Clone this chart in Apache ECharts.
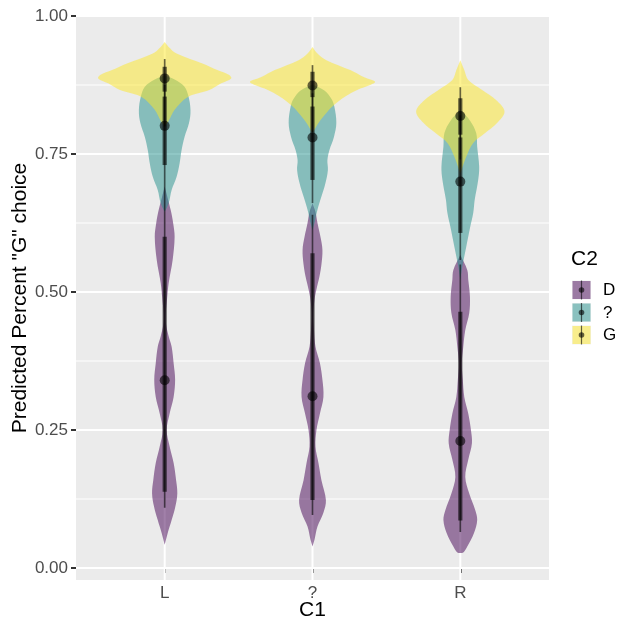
<!DOCTYPE html>
<html><head><meta charset="utf-8">
<script src="https://cdn.jsdelivr.net/npm/echarts@6/dist/echarts.min.js"></script>
<style>html,body{margin:0;padding:0;background:#fff}#c{width:618px;height:625px}</style>
</head><body><div id="c"></div>
<script>
// ---------- data ----------
const categories = ['L', '?', 'R'];
const groupNames = ['D', '?', 'G'];
const groupColors = ['#440154', '#21908C', '#FDE725'];
const yTickValues = [0, 0.25, 0.5, 0.75, 1];
const yMinorValues = [0.125, 0.375, 0.625, 0.875];

// violin profiles: [predicted value, relative density (half width)]
const violinL_D = [[0.691,0],[0.67,3],[0.649,6],[0.625,8.5],[0.60,10],[0.558,8],[0.516,4],[0.49,2.5],[0.462,1.2],[0.44,1.5],[0.42,4],[0.401,7],[0.371,9],[0.341,10.5],[0.31,9],[0.28,5],[0.25,2],[0.22,5],[0.19,9],[0.159,11.5],[0.135,12.7],[0.111,10.7],[0.087,7],[0.063,3],[0.042,0]];
const violinL_Q = [[0.892,0],[0.885,10],[0.872,20],[0.854,24],[0.829,26],[0.806,24.5],[0.781,20],[0.757,17],[0.733,15],[0.709,12],[0.685,7],[0.661,4],[0.645,0]];
const violinL_G = [[0.953,0],[0.944,4],[0.932,12],[0.914,38],[0.902,53],[0.893,65],[0.887,67],[0.878,57],[0.866,45],[0.853,23],[0.83,10],[0.81,4],[0.80,0]];
const violinQ_D = [[0.661,0],[0.645,3],[0.625,5],[0.60,8],[0.576,10],[0.55,9],[0.528,7],[0.505,4],[0.486,2],[0.462,1],[0.431,1.5],[0.401,3],[0.371,7.5],[0.341,10],[0.31,11],[0.28,7.5],[0.25,4],[0.22,3],[0.19,6],[0.159,9],[0.123,13.5],[0.10,11],[0.075,5],[0.051,2],[0.039,0]];
const violinQ_Q = [[0.876,0],[0.865,12],[0.85,19],[0.836,22],[0.806,24],[0.781,21.6],[0.757,17],[0.739,15],[0.721,15.5],[0.697,13],[0.673,9],[0.649,5],[0.625,2],[0.612,0]];
const violinQ_G = [[0.944,0],[0.932,5],[0.92,14],[0.902,38],[0.889,52],[0.881,63],[0.875,58],[0.866,45],[0.854,33],[0.836,20],[0.82,12],[0.806,6],[0.788,0]];
const violinR_D = [[0.567,0],[0.54,7],[0.522,8],[0.491,9.7],[0.462,9],[0.431,5],[0.401,3],[0.371,1.5],[0.341,2.5],[0.31,4],[0.28,8],[0.25,10.7],[0.226,11.7],[0.196,8],[0.165,5],[0.135,9],[0.105,15],[0.087,17],[0.063,13.7],[0.039,7],[0.028,3],[0.027,0]];
const violinR_Q = [[0.83,0],[0.81,10],[0.788,16],[0.763,17],[0.727,19],[0.703,18],[0.667,14.5],[0.643,13],[0.618,10],[0.582,6],[0.546,2],[0.522,0]];
const violinR_G = [[0.92,0],[0.902,4],[0.884,8],[0.866,22],[0.848,36],[0.827,44.5],[0.806,37],[0.788,25],[0.77,13],[0.745,6],[0.715,0]];

// point intervals per category (L, ?, R)
const medianD = [0.34, 0.311, 0.23];
const medianQ = [0.801, 0.78, 0.70];
const medianG = [0.887, 0.874, 0.819];
const inner66D = [[0.138,0.60],[0.123,0.57],[0.086,0.464]];
const inner66Q = [[0.73,0.854],[0.703,0.836],[0.607,0.78]];
const inner66G = [[0.863,0.908],[0.853,0.899],[0.785,0.851]];
const outer95D = [[0.109,0.645],[0.096,0.64],[0.065,0.55]];
const outer95Q = [[0.645,0.875],[0.661,0.86],[0.558,0.82]];
const outer95G = [[0.80,0.922],[0.79,0.911],[0.74,0.871]];

// ---------- build ----------
const violins = [
  [violinL_D, violinQ_D, violinR_D],
  [violinL_Q, violinQ_Q, violinR_Q],
  [violinL_G, violinQ_G, violinR_G]
];
const medians = [medianD, medianQ, medianG];
const inner66 = [inner66D, inner66Q, inner66G];
const outer95 = [outer95D, outer95Q, outer95G];

let maxDens = 0;
violins.forEach(g => g.forEach(v => v.forEach(p => { if (p[1] > maxDens) maxDens = p[1]; })));
const halfMax = 0.45; // widest violin spans 0.9 category units

function hexRgba(hex, a) {
  const n = parseInt(hex.slice(1), 16);
  return 'rgba(' + (n >> 16) + ',' + ((n >> 8) & 255) + ',' + (n & 255) + ',' + a + ')';
}

const FONT = '"Liberation Sans", Arial, sans-serif';

const violinSeries = groupNames.map((name, g) => ({
  type: 'custom',
  name: name,
  z: 3 + g,
  silent: true,
  data: categories.map((c, i) => [i + 1, medians[g][i]]),
  encode: { x: 0, y: 1 },
  renderItem: function (params, api) {
    const cx = api.value(0);
    const prof = violins[g][cx - 1];
    const right = prof.map(p => api.coord([cx + p[1] / maxDens * halfMax, p[0]]));
    const left = prof.slice().reverse().map(p => api.coord([cx - p[1] / maxDens * halfMax, p[0]]));
    return {
      type: 'polygon',
      shape: { points: right.concat(left), smooth: 0.35 },
      style: { fill: hexRgba(groupColors[g], 0.5), stroke: null }
    };
  }
}));

const intervalData = [];
groupNames.forEach((name, g) => categories.forEach((c, i) => {
  intervalData.push([i + 1, medians[g][i], inner66[g][i][0], inner66[g][i][1], outer95[g][i][0], outer95[g][i][1]]);
}));

const intervalSeries = {
  type: 'custom',
  z: 10,
  silent: true,
  data: intervalData,
  encode: { x: 0, y: 1 },
  renderItem: function (params, api) {
    const cx = api.value(0);
    const pMed = api.coord([cx, api.value(1)]);
    const a66 = api.coord([cx, api.value(2)]), b66 = api.coord([cx, api.value(3)]);
    const a95 = api.coord([cx, api.value(4)]), b95 = api.coord([cx, api.value(5)]);
    const col = 'rgba(0,0,0,0.6)';
    return {
      type: 'group',
      children: [
        { type: 'line', shape: { x1: a95[0], y1: a95[1], x2: b95[0], y2: b95[1] }, style: { stroke: col, lineWidth: 1.7, lineCap: 'butt' } },
        { type: 'line', shape: { x1: a66[0], y1: a66[1], x2: b66[0], y2: b66[1] }, style: { stroke: col, lineWidth: 4.2, lineCap: 'butt' } },
        { type: 'circle', shape: { cx: pMed[0], cy: pMed[1], r: 5 }, style: { fill: col } }
      ]
    };
  }
};

// grid lines: [x, y, kind] kind 0 major horizontal, 1 minor horizontal, 2 vertical
const gridData = [];
yTickValues.forEach(v => gridData.push([1, v, 0]));
yMinorValues.forEach(v => gridData.push([1, v, 1]));
categories.forEach((c, i) => gridData.push([i + 1, 0.5, 2]));

const gridSeries = {
  type: 'custom',
  z: 1,
  silent: true,
  data: gridData,
  encode: { x: 0, y: 1 },
  renderItem: function (params, api) {
    const cs = params.coordSys;
    const kind = api.value(2);
    if (kind === 2) {
      const x = api.coord([api.value(0), 0])[0];
      return { type: 'line', shape: { x1: x, y1: cs.y, x2: x, y2: cs.y + cs.height }, style: { stroke: '#ffffff', lineWidth: 2 } };
    }
    const y = api.coord([1, api.value(1)])[1];
    return { type: 'line', shape: { x1: cs.x, y1: y, x2: cs.x + cs.width, y2: y }, style: { stroke: '#ffffff', lineWidth: kind === 0 ? 2 : 1 } };
  }
};

// legend graphics
const legendEls = [
  { type: 'text', x: 571, y: 259, style: { text: 'C2', font: '21px ' + FONT, fill: '#000', textVerticalAlign: 'middle' } }
];
groupNames.forEach((name, g) => {
  const top = 280.5 + g * 22.5;
  legendEls.push({ type: 'rect', shape: { x: 572, y: top, width: 19, height: 19 }, style: { fill: '#F2F2F2' } });
  legendEls.push({ type: 'rect', shape: { x: 572.5, y: top + 0.5, width: 18, height: 18 }, style: { fill: hexRgba(groupColors[g], 0.5) } });
  legendEls.push({ type: 'line', shape: { x1: 581.5, y1: top, x2: 581.5, y2: top + 19 }, style: { stroke: 'rgba(0,0,0,0.6)', lineWidth: 1.2 } });
  legendEls.push({ type: 'circle', shape: { cx: 581.5, cy: top + 9.5, r: 2.8 }, style: { fill: 'rgba(0,0,0,0.6)' } });
  legendEls.push({ type: 'text', x: 603, y: top + 10, style: { text: name, font: '17px ' + FONT, fill: '#000', textVerticalAlign: 'middle' } });
});

const option = {
  animation: false,
  grid: { left: 76, right: 69, top: 16, bottom: 45, show: true, backgroundColor: '#EBEBEB', borderWidth: 0 },
  xAxis: {
    type: 'value', min: 0.4, max: 3.6,
    splitLine: { show: false },
    axisLine: { show: false },
    axisTick: { show: true, customValues: [1, 2, 3], length: 5, lineStyle: { color: '#333333', width: 2 } },
    axisLabel: { customValues: [1, 2, 3], formatter: v => categories[Math.round(v) - 1], color: '#4D4D4D', fontSize: 17, fontFamily: FONT, margin: 5 }
  },
  yAxis: {
    type: 'value', min: -0.02174, max: 1,
    splitLine: { show: false },
    axisLine: { show: false },
    axisTick: { show: true, customValues: yTickValues, length: 5, lineStyle: { color: '#333333', width: 2 } },
    axisLabel: { customValues: yTickValues, formatter: v => v.toFixed(2), color: '#4D4D4D', fontSize: 17, fontFamily: FONT, margin: 8 }
  },
  graphic: [
    { type: 'text', x: 20, y: 298, rotation: Math.PI / 2, style: { text: 'Predicted Percent "G" choice', font: '21px ' + FONT, fill: '#000', textAlign: 'center', textVerticalAlign: 'middle' } },
    { type: 'text', x: 312.5, y: 610, style: { text: 'C1', font: '21px ' + FONT, fill: '#000', textAlign: 'center', textVerticalAlign: 'middle' } }
  ].concat(legendEls),
  series: [gridSeries].concat(violinSeries, [intervalSeries])
};

const chart = echarts.init(document.getElementById('c'), null, { renderer: 'canvas' });
chart.setOption(option);
</script>
</body></html>
